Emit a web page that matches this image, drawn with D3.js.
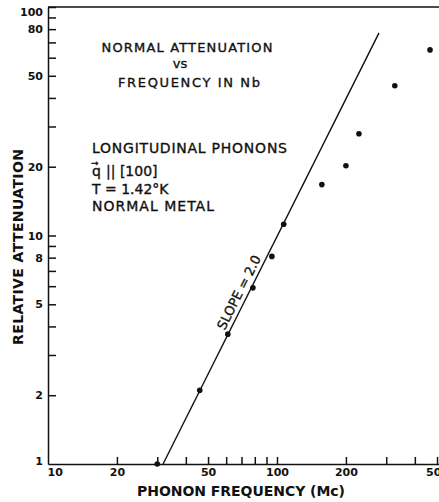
<!doctype html>
<html>
<head>
  <script src="https://d3js.org/d3.v7.min.js"></script>
  <style>
    body { margin: 0; background: #fff; }
    text { font-family: "DejaVu Sans", sans-serif; fill: #111; }
    .axis text { font-size: 11px; font-weight: bold; }
    .axis path, .axis line { stroke: #111; stroke-width: 1.5; }
    .note text { stroke: #111; stroke-width: 0.35; }
  </style>
</head>
<body>
<div id="chart"></div>
<script>
  // measured data points (frequency in Mc, relative attenuation)
  var freq  = [30, 46, 61, 78.5, 95, 107, 157, 200, 228, 327, 466];
  var atten = [1, 2.1, 3.7, 5.9, 8.1, 11.2, 16.7, 20.2, 27.9, 45.2, 64.9];

  // slope = 2.0 reference line, end points
  var lineFreq  = [31.8, 279];
  var lineAtten = [1, 77];

  var xTicks  = [10, 20, 30, 40, 50, 60, 70, 80, 90, 100, 200, 300, 400, 500];
  var xLabels = [10, 20, 50, 100, 200, 500];
  var yTicks  = [1, 2, 3, 4, 5, 6, 7, 8, 9, 10, 20, 30, 40, 50, 60, 70, 80, 90, 100];
  var yLabels = [1, 2, 5, 8, 10, 20, 50, 80, 100];

  var W = 439, H = 502;
  var svg = d3.select("#chart").append("svg")
      .attr("width", W).attr("height", H);

  var x = d3.scaleLog().domain([10, 510]).range([48, 439]);
  var y = d3.scaleLog().domain([1, 100]).range([464, 7]);

  // top frame line
  svg.append("path")
      .attr("d", d3.line()([[x(10), y(100)], [x(510), y(100)]]))
      .style("stroke", "#111").style("stroke-width", 1.5);

  var gy = svg.append("g").attr("class", "axis")
      .attr("transform", "translate(" + x(10) + ",0)")
      .call(d3.axisLeft(y).tickValues(yTicks).tickSize(-8).tickSizeOuter(0).tickPadding(5)
        .tickFormat(function(d) { return yLabels.indexOf(d) >= 0 ? d : ""; }));
  gy.selectAll(".tick").filter(function(d) { return d == 1; }).select("line").remove();
  gy.selectAll(".tick").filter(function(d) { return d == 1; }).select("text").attr("dy", "0.05em");
  gy.selectAll(".tick").filter(function(d) { return d == 100; }).select("text").attr("dy", "0.75em");

  var gx = svg.append("g").attr("class", "axis")
      .attr("transform", "translate(0," + y(1) + ")")
      .call(d3.axisBottom(x).tickValues(xTicks).tickSize(-7).tickSizeOuter(0).tickPadding(4)
        .tickFormat(function(d) { return xLabels.indexOf(d) >= 0 ? d : ""; }));
  gx.selectAll(".tick").filter(function(d) { return d == 10; }).select("line").remove();
  gx.selectAll(".tick").filter(function(d) { return d == 10; }).select("text")
      .attr("text-anchor", "start").attr("x", -1);

  // slope line
  svg.append("path")
      .attr("d", d3.line()(lineFreq.map(function(f, i) { return [x(f), y(lineAtten[i])]; })))
      .style("stroke", "#111").style("stroke-width", 1.4).style("fill", "none");

  svg.selectAll(".pt").data(freq).enter().append("circle")
      .attr("cx", function(d) { return x(d); })
      .attr("cy", function(d, i) { return y(atten[i]); })
      .attr("r", 2.8).style("fill", "#111");

  var note = svg.append("g").attr("class", "note");

  // slope label along line
  note.append("text")
      .attr("transform", "translate(" + x(74) + "," + y(5.41) + ") rotate(-63.4)")
      .attr("text-anchor", "middle").attr("dy", "-0.35em")
      .style("font-size", "13px").text("SLOPE = 2.0");

  // title block
  var title = note.append("g").style("font-size", "13px").attr("text-anchor", "middle");
  title.append("text").attr("x", 187).attr("y", 52).attr("textLength", 171).text("NORMAL ATTENUATION");
  title.append("text").attr("x", 180).attr("y", 68).text("vs");
  title.append("text").attr("x", 189).attr("y", 87).attr("textLength", 142).text("FREQUENCY IN Nb");

  var info = note.append("g").style("font-size", "14px");
  info.append("text").attr("x", 92).attr("y", 153).attr("textLength", 195).text("LONGITUDINAL PHONONS");
  var q = info.append("text").attr("x", 92).attr("y", 176);
  q.append("tspan").text("q");
  q.append("tspan").attr("x", 91).attr("dy", -10).style("font-size", "9px").text("\u2192");
  q.append("tspan").attr("x", 106).attr("dy", 10).text("|| [100]");
  info.append("text").attr("x", 92).attr("y", 194).text("T = 1.42°K");
  info.append("text").attr("x", 92).attr("y", 211).attr("textLength", 122).text("NORMAL METAL");

  // axis titles
  svg.append("text")
      .attr("transform", "translate(23,247) rotate(-90)")
      .attr("text-anchor", "middle").attr("textLength", 196)
      .style("font-size", "14px").style("font-weight", "bold").text("RELATIVE ATTENUATION");
  svg.append("text")
      .attr("x", 241).attr("y", 496).attr("text-anchor", "middle").attr("textLength", 208)
      .style("font-size", "14px").style("font-weight", "bold").text("PHONON FREQUENCY (Mc)");
</script>
</body>
</html>
